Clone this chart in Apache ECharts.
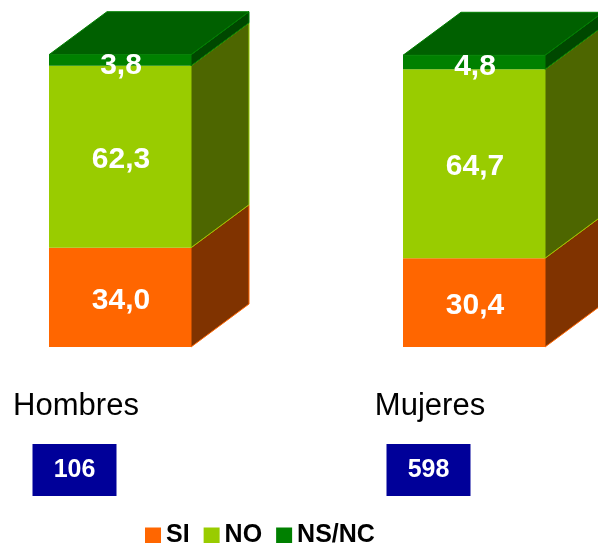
<!DOCTYPE html>
<html><head><meta charset="utf-8">
<script src="https://cdn.jsdelivr.net/npm/echarts/dist/echarts.min.js"></script>
<style>html,body{margin:0;padding:0;background:#fff}#c{width:598px;height:543px}</style>
</head><body><div id="c"></div>
<script>
const categories = ['Hombres', 'Mujeres'];
const sampleSizes = ['106', '598'];
const seriesNames = ['SI', 'NO', 'NS/NC'];
const siValues = [34.0, 30.4];
const noValues = [62.3, 64.7];
const nsncValues = [3.8, 4.8];

const frontColors = ['#FF6600', '#99CC00', '#008000'];
const sideColors = ['#803300', '#4D6600', '#004800'];
const topColor = '#006000';
const valueSets = [siValues, noValues, nsncValues];

const BAR_W = 142, DX = 58, DY = 43;
const FONT = '"Liberation Sans", Arial, sans-serif';
function fmt(v) { return v.toFixed(1).replace('.', ','); }

const series = valueSets.map(function (vals, si) {
  const data = vals.map(function (v, ci) {
    let base = 0;
    for (let k = 0; k < si; k++) base += valueSets[k][ci];
    return [ci, base, base + v, v];
  });
  return {
    name: seriesNames[si],
    type: 'custom',
    itemStyle: { color: frontColors[si] },
    clip: false,
    data: data,
    encode: { x: 0, y: [1, 2] },
    renderItem: function (params, api) {
      const ci = api.value(0);
      const p0 = api.coord([ci, api.value(1)]);
      const p1 = api.coord([ci, api.value(2)]);
      const x0 = p0[0] - BAR_W / 2, x1 = p0[0] + BAR_W / 2;
      const yb = p0[1], yt = p1[1];
      const children = [];
      children.push({
        type: 'polygon',
        shape: { points: [[x1, yb], [x1 + DX, yb - DY], [x1 + DX, yt - DY], [x1, yt]] },
        style: { fill: sideColors[si], stroke: frontColors[si], lineWidth: 1 }
      });
      if (si === valueSets.length - 1) {
        children.push({
          type: 'polygon',
          shape: { points: [[x0, yt], [x0 + DX, yt - DY], [x1 + DX, yt - DY], [x1, yt]] },
          style: { fill: topColor, stroke: frontColors[si], lineWidth: 1 }
        });
      }
      children.push({
        type: 'rect',
        shape: { x: x0, y: yt, width: BAR_W, height: yb - yt },
        style: { fill: frontColors[si] }
      });
      const ly = Math.max((yb + yt) / 2 + 3, yt + 11);
      children.push({
        type: 'text',
        z2: 10,
        style: {
          text: fmt(api.value(3)), x: (x0 + x1) / 2 + 1, y: ly,
          align: 'center', verticalAlign: 'middle', fill: '#fff',
          font: 'bold 30px ' + FONT
        }
      });
      return { type: 'group', children: children };
    }
  };
});

const chart = echarts.init(document.getElementById('c'), null, { renderer: 'canvas' });
chart.setOption({
  animation: false,
  backgroundColor: '#fff',
  grid: { left: 120, right: 124, top: 55, bottom: 196 },
  xAxis: [
    {
      type: 'category', data: categories, boundaryGap: false,
      axisLine: { show: false }, axisTick: { show: false }, splitLine: { show: false },
      axisLabel: {
        margin: 44, fontSize: 31, color: '#000', fontFamily: FONT,
        padding: [0, 88, 0, 0], interval: 0
      }
    },
    {
      type: 'category', data: categories, boundaryGap: false, position: 'bottom',
      axisLine: { show: false }, axisTick: { show: false }, splitLine: { show: false },
      axisLabel: {
        margin: 97, interval: 0, padding: [0, 91, 0, 0],
        formatter: function (v, i) { return '{b|' + sampleSizes[i] + '}'; },
        rich: {
          b: {
            width: 84, height: 52, lineHeight: 52, align: 'center',
            backgroundColor: '#000099', color: '#fff', fontWeight: 'bold',
            fontSize: 25, fontFamily: FONT
          }
        }
      }
    }
  ],
  yAxis: { type: 'value', min: 0, max: 100, show: false, splitLine: { show: false } },
  legend: {
    left: 140, top: 518, icon: 'rect', itemWidth: 16, itemHeight: 16, itemGap: 14,
    textStyle: { fontSize: 25, fontWeight: 'bold', color: '#000', fontFamily: FONT },
    data: seriesNames
  },
  series: series
});
</script>
</body></html>
